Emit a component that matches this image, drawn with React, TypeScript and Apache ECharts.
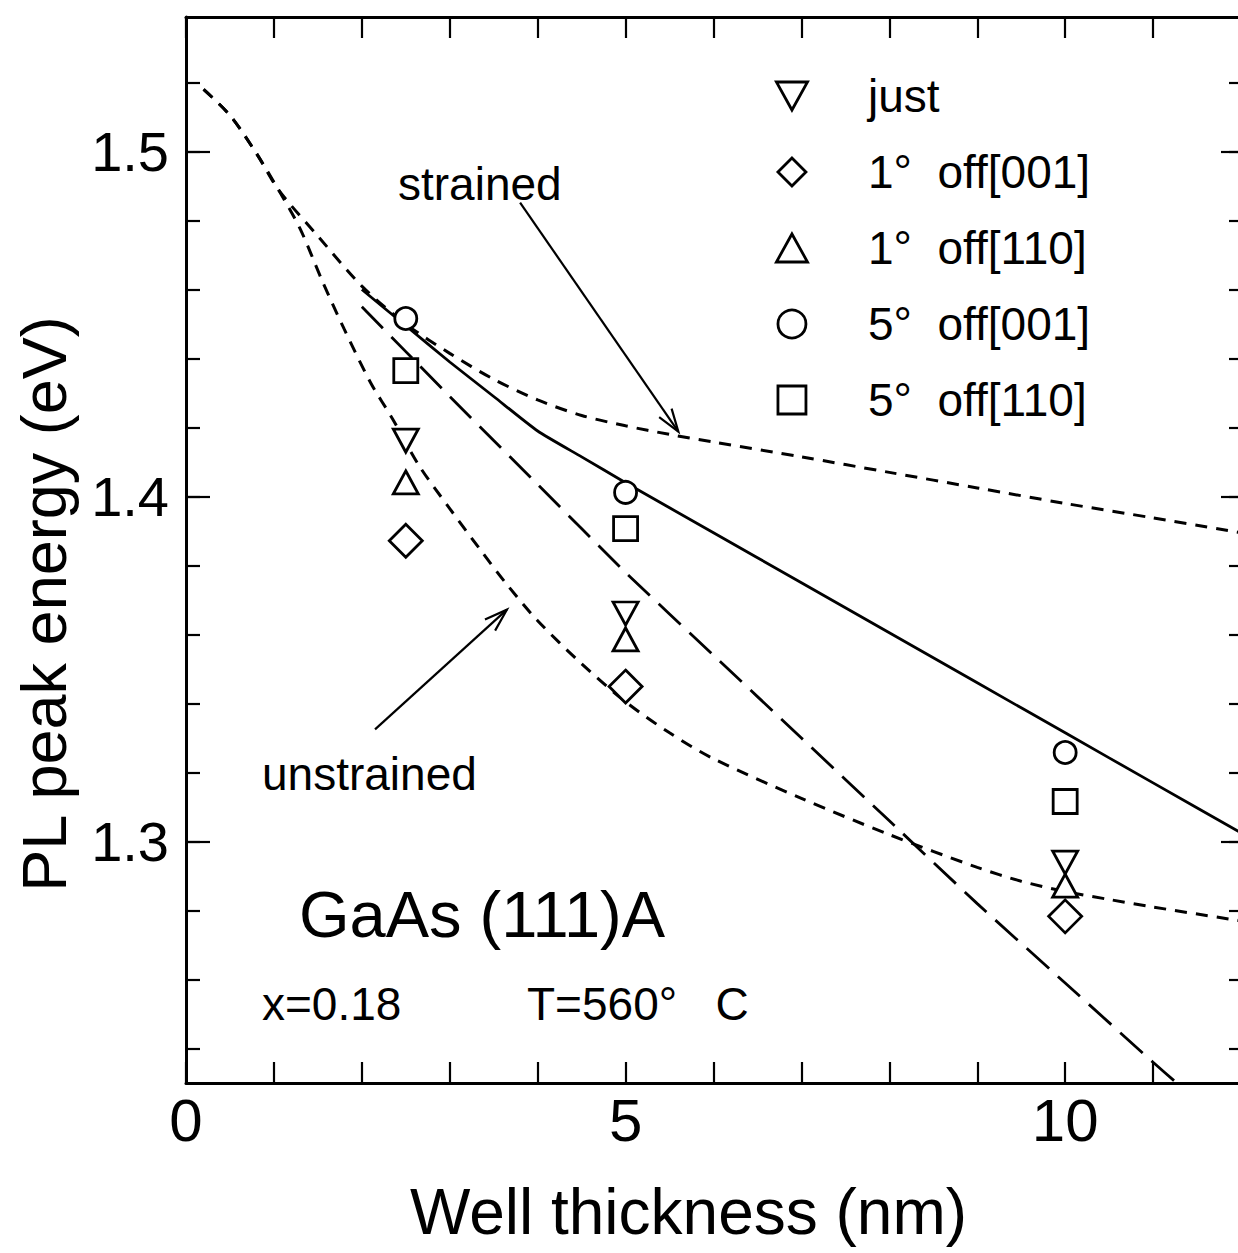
import React, { useEffect, useRef } from "react";
import * as echarts from "echarts";

const FONT = "'Liberation Sans', Arial, Helvetica, sans-serif";
const INK = "#000";

// Axis extents (nm, eV)
const xRange = [0, 12];
const yRange = [1.23, 1.539];
const yMinorTicks = [1.24, 1.52, 0.02];
const yMajorTicks = [1.3, 1.5, 0.1];
const xLabelled = [0, 5, 10];

// Theoretical curves
const strainedCurve = [
  [0.2, 1.518], [0.5, 1.5105], [0.8, 1.4995], [1.05, 1.489], [1.5, 1.4755],
  [2.0, 1.461], [2.5, 1.450], [3.0, 1.4415], [3.5, 1.434], [4.0, 1.428],
  [4.5, 1.4235], [5.0, 1.4205], [5.5, 1.418], [6.0, 1.4158], [7.0, 1.4115],
  [8.0, 1.407], [9.0, 1.4025], [10.0, 1.398], [11.0, 1.3938], [12.0, 1.3895],
];
const unstrainedCurve = [
  [0.2, 1.518], [0.5, 1.5105], [0.8, 1.4995], [1.05, 1.489], [1.3, 1.4775],
  [1.55, 1.4625], [1.8, 1.4485], [2.1, 1.433], [2.35, 1.4225], [2.65, 1.409],
  [3.0, 1.3965], [3.35, 1.3845], [3.65, 1.3745], [4.0, 1.364], [4.5, 1.3515],
  [5.0, 1.3405], [5.5, 1.3315], [6.0, 1.324], [7.0, 1.3125], [8.0, 1.302],
  [9.0, 1.2925], [9.5, 1.2885], [10.0, 1.2855], [10.5, 1.2832], [11.0, 1.281],
  [12.0, 1.277],
];
const solidCurve = [
  [2.0, 1.460], [2.5, 1.4495], [3.0, 1.439], [3.5, 1.429], [4.0, 1.419],
  [4.5, 1.4115], [5.0, 1.404], [6.0, 1.3895], [7.0, 1.375], [8.0, 1.3605],
  [9.0, 1.346], [10.0, 1.3315], [11.0, 1.317], [12.0, 1.3025],
];
const longDashCurve = [
  [2.0, 1.455], [2.5, 1.442], [3.0, 1.429], [4.0, 1.4035], [5.0, 1.378],
  [6.0, 1.354], [7.0, 1.330], [8.0, 1.306], [9.0, 1.282], [10.0, 1.259],
  [11.0, 1.236], [11.27, 1.23],
];

// Measured PL peaks
const justData = [[2.5, 1.4162], [5, 1.3661], [10, 1.2939]];
const off001_1Data = [[2.5, 1.3872], [5, 1.3449], [10, 1.2783]];
const off110_1Data = [[2.5, 1.4041], [5, 1.3586], [10, 1.2872]];
const off001_5Data = [[2.5, 1.4516], [5, 1.4012], [10, 1.3258]];
const off110_5Data = [[2.5, 1.4365], [5, 1.3907], [10, 1.3116]];

const seriesNames = [
  "just",
  "1°\u00a0 off[001]",
  "1°\u00a0 off[110]",
  "5°\u00a0 off[001]",
  "5°\u00a0 off[110]",
];

// Annotation arrows: [x0, y0, x1(tip), y1(tip)]
const arrowData = [
  [3.8, 1.4852, 5.6, 1.4188],
  [2.15, 1.3325, 3.65, 1.3672],
];

const DOWN_TRI = "path://M0,0 L20,0 L10,18 Z";
const UP_TRI = "path://M10,0 L20,18 L0,18 Z";
const DIAMOND = "path://M10,0 L20,10 L10,20 L0,10 Z";
const SQUARE = "path://M0,0 L20,0 L20,20 L0,20 Z";

function markerSeries(name: string, data: number[][], symbol: string, size: any) {
  return {
    name,
    type: "scatter",
    xAxisIndex: 0,
    yAxisIndex: 0,
    data,
    symbol,
    symbolSize: size,
    z: 6,
    itemStyle: { color: "#fff", borderColor: INK, borderWidth: 2.8, opacity: 1 },
    emphasis: { disabled: true },
  };
}

function curveSeries(data: number[][], type: any, width: number, smooth: number) {
  return {
    type: "line",
    xAxisIndex: 0,
    yAxisIndex: 0,
    data,
    smooth,
    showSymbol: false,
    symbol: "none",
    silent: true,
    z: 3,
    lineStyle: { color: INK, width, type },
  };
}

export default function App() {
  const ref = useRef<HTMLDivElement>(null);

  useEffect(() => {
    if (!ref.current) return;
    const chart = echarts.init(ref.current, null, { renderer: "svg" });

    const tickLine = { color: INK, width: 2.2 };
    const frameLine = { show: true, onZero: false, lineStyle: { color: INK, width: 3 } };
    const gridBase = { left: 186, right: -3, outerBoundsMode: "none", containLabel: false };

    const option: any = {
      animation: false,
      backgroundColor: "#fff",
      grid: [
        { ...gridBase, top: 17, bottom: 170 },
        { ...gridBase, top: 82.5, bottom: 204.5 },
        { ...gridBase, top: 151.5, bottom: 411.5 },
      ],
      xAxis: [
        {
          type: "value", gridIndex: 0, position: "bottom",
          min: xRange[0], max: xRange[1], interval: 1,
          axisLine: frameLine,
          axisTick: { show: true, inside: true, length: 21, lineStyle: tickLine },
          axisLabel: {
            show: true, margin: 7, fontSize: 60, color: INK, fontFamily: FONT,
            formatter: (v: number) => (xLabelled.indexOf(v) >= 0 ? String(v) : ""),
          },
          splitLine: { show: false },
          name: "Well thickness (nm)", nameLocation: "middle", nameGap: 97,
          nameTextStyle: { fontSize: 64, color: INK, fontFamily: FONT, padding: [0, 50, 0, 0] },
        },
        {
          type: "value", gridIndex: 0, position: "top",
          min: xRange[0], max: xRange[1], interval: 1,
          axisLine: frameLine,
          axisTick: { show: true, inside: true, length: 21, lineStyle: tickLine },
          axisLabel: { show: false },
          splitLine: { show: false },
        },
        { type: "value", gridIndex: 1, show: false, min: 0, max: 12 },
        { type: "value", gridIndex: 2, show: false, min: 0, max: 12 },
      ],
      yAxis: [
        {
          type: "value", gridIndex: 0, position: "left",
          min: yRange[0], max: yRange[1],
          axisLine: frameLine, axisTick: { show: false }, axisLabel: { show: false },
          splitLine: { show: false },
          name: "PL peak energy (eV)", nameLocation: "middle", nameGap: 111, nameRotate: 90,
          nameTextStyle: { fontSize: 63, color: INK, fontFamily: FONT, padding: [0, 108, 0, 0] },
        },
        {
          type: "value", gridIndex: 0, position: "right",
          min: yRange[0], max: yRange[1],
          axisLine: frameLine, axisTick: { show: false }, axisLabel: { show: false },
          splitLine: { show: false },
        },
        {
          type: "value", gridIndex: 1, position: "left",
          min: yMinorTicks[0], max: yMinorTicks[1], interval: yMinorTicks[2],
          axisLine: { show: false },
          axisTick: { show: true, inside: true, length: 14, lineStyle: tickLine },
          axisLabel: { show: false }, splitLine: { show: false },
        },
        {
          type: "value", gridIndex: 1, position: "right",
          min: yMinorTicks[0], max: yMinorTicks[1], interval: yMinorTicks[2],
          axisLine: { show: false },
          axisTick: { show: true, inside: true, length: 12, lineStyle: tickLine },
          axisLabel: { show: false }, splitLine: { show: false },
        },
        {
          type: "value", gridIndex: 2, position: "left",
          min: yMajorTicks[0], max: yMajorTicks[1], interval: yMajorTicks[2],
          axisLine: { show: false },
          axisTick: { show: true, inside: true, length: 24, lineStyle: tickLine },
          axisLabel: {
            show: true, margin: 17, fontSize: 56, color: INK, fontFamily: FONT,
            formatter: (v: number) => v.toFixed(1),
          },
          splitLine: { show: false },
        },
        {
          type: "value", gridIndex: 2, position: "right",
          min: yMajorTicks[0], max: yMajorTicks[1], interval: yMajorTicks[2],
          axisLine: { show: false },
          axisTick: { show: true, inside: true, length: 20, lineStyle: tickLine },
          axisLabel: { show: false }, splitLine: { show: false },
        },
      ],
      legend: {
        data: seriesNames,
        orient: "vertical",
        left: 770,
        top: 68,
        itemWidth: 142,
        itemHeight: 28,
        itemGap: 30,
        selectedMode: false,
        itemStyle: { borderWidth: 2.8, borderColor: INK, color: "#fff" },
        textStyle: { fontSize: 46, color: INK, fontFamily: FONT },
      },
      graphic: [
        { type: "text", left: 398, top: 161, style: { text: "strained", fontSize: 46, fontFamily: FONT, fill: INK } },
        { type: "text", left: 262, top: 751, style: { text: "unstrained", fontSize: 46, fontFamily: FONT, fill: INK } },
        { type: "text", left: 299, top: 882, style: { text: "GaAs (111)A", fontSize: 65, fontFamily: FONT, fill: INK } },
        { type: "text", left: 262, top: 981, style: { text: "x=0.18", fontSize: 46, fontFamily: FONT, fill: INK } },
        { type: "text", left: 527, top: 981, style: { text: "T=560°\u00a0 \u00a0C", fontSize: 46, fontFamily: FONT, fill: INK } },
      ],
      series: [
        curveSeries(strainedCurve, [12, 9], 3, 0.3),
        curveSeries(unstrainedCurve, [12, 9], 3, 0.3),
        curveSeries(solidCurve, "solid", 2.8, 0.2),
        curveSeries(longDashCurve, [30, 12], 2.8, 0.2),
        {
          type: "custom",
          xAxisIndex: 0,
          yAxisIndex: 0,
          data: arrowData,
          encode: { x: [0, 2], y: [1, 3] },
          clip: false,
          silent: true,
          z: 4,
          renderItem: (_params: any, api: any) => {
            const p0 = api.coord([api.value(0), api.value(1)]);
            const p1 = api.coord([api.value(2), api.value(3)]);
            const ang = Math.atan2(p1[1] - p0[1], p1[0] - p0[0]);
            const L = 24;
            const a = 0.32;
            const h1 = [p1[0] - L * Math.cos(ang - a), p1[1] - L * Math.sin(ang - a)];
            const h2 = [p1[0] - L * Math.cos(ang + a), p1[1] - L * Math.sin(ang + a)];
            return {
              type: "group",
              children: [
                { type: "line", shape: { x1: p0[0], y1: p0[1], x2: p1[0], y2: p1[1] }, style: { stroke: INK, lineWidth: 2.2 } },
                { type: "polyline", shape: { points: [h1, p1, h2] }, style: { stroke: INK, fill: "none", lineWidth: 2.2 } },
              ],
            };
          },
        },
        markerSeries(seriesNames[0], justData, DOWN_TRI, [25, 23]),
        markerSeries(seriesNames[1], off001_1Data, DIAMOND, [33, 33]),
        markerSeries(seriesNames[2], off110_1Data, UP_TRI, [25, 23]),
        markerSeries(seriesNames[3], off001_5Data, "circle", 22),
        markerSeries(seriesNames[4], off110_5Data, SQUARE, [24, 24]),
      ],
    };

    chart.setOption(option);
    return () => chart.dispose();
  }, []);

  return (
    <div
      ref={ref}
      style={{ position: "absolute", left: 0, top: 0, width: 1238, height: 1253, background: "#fff" }}
    />
  );
}
